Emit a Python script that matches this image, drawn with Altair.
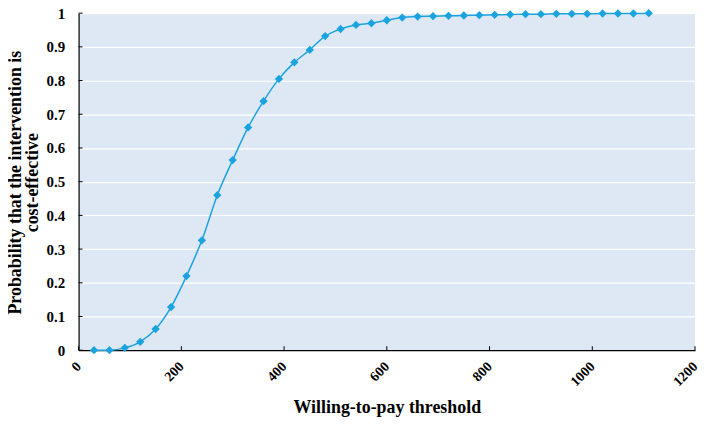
import altair as alt
import pandas as pd

wtp = [30, 60, 90, 120, 150, 180, 210, 240, 270, 300, 330, 360, 390, 420, 450,
       480, 510, 540, 570, 600, 630, 660, 690, 720, 750, 780, 810, 840, 870,
       900, 930, 960, 990, 1020, 1050, 1080, 1110]
prob = [0.0, 0.0, 0.007, 0.025, 0.063, 0.128, 0.22, 0.326, 0.46, 0.564, 0.661,
        0.739, 0.805, 0.854, 0.891, 0.932, 0.953, 0.965, 0.970, 0.979, 0.987,
        0.990, 0.991, 0.992, 0.993, 0.994, 0.995, 0.996, 0.997, 0.997, 0.998,
        0.998, 0.998, 0.999, 0.999, 0.999, 1.0]

x_ticks = [0, 200, 400, 600, 800, 1000, 1200]
y_ticks = [0, 0.1, 0.2, 0.3, 0.4, 0.5, 0.6, 0.7, 0.8, 0.9, 1.0]

df = pd.DataFrame({"wtp": wtp, "prob": prob})
xt = pd.DataFrame({"wtp": x_ticks})
yt = pd.DataFrame({"prob": y_ticks})

W, H = 620, 339
COLOR = "#1ba3e0"
FONT = "Liberation Serif"

xscale = alt.Scale(domain=[0, 1200], nice=False)
yscale = alt.Scale(domain=[0, 1], nice=False)

xaxis = alt.Axis(values=x_ticks, format="d", labelAngle=-45, labelAlign="right",
                 labelBaseline="middle", labelPadding=14, ticks=False, grid=False,
                 labelOverlap=False, labelFlush=False,
                 domainColor="black", domainWidth=1.2,
                 labelFont=FONT, labelFontWeight="bold", labelFontSize=14, labelColor="black",
                 title="Willing-to-pay threshold", titleFont=FONT, titleFontWeight="bold",
                 titleFontSize=18, titleColor="black", titleY=63, titleBaseline="alphabetic")
yaxis = alt.Axis(values=y_ticks, format="~g", ticks=False, grid=True, gridColor="white",
                 gridWidth=1.2, domainColor="black", domainWidth=1.2,
                 labelOverlap=False, labelFlush=False,
                 labelFont=FONT, labelFontWeight="bold", labelFontSize=15, labelColor="black",
                 labelPadding=14,
                 title=["Probability that the intervention is", "cost-effective"],
                 titleFont=FONT, titleFontWeight="bold", titleFontSize=18, titleColor="black",
                 titleLineHeight=17, titleX=-58, titleY=170, titleAngle=-90,
                 titleAlign="center", titleBaseline="alphabetic")

X = alt.X("wtp:Q", scale=xscale, axis=xaxis)
Y = alt.Y("prob:Q", scale=yscale, axis=yaxis)

line = alt.Chart(df).mark_line(color=COLOR, strokeWidth=1.5, interpolate="monotone", clip=False).encode(
    x=X, y=Y,
)
pts = alt.Chart(df).mark_point(shape="diamond", filled=True, color=COLOR, size=70, opacity=1, clip=False).encode(
    x=X, y=Y,
)
xtick = alt.Chart(xt).mark_rule(color="black", strokeWidth=1).encode(
    x=X, y=alt.value(H), y2=alt.value(H - 4),
)
ytick = alt.Chart(yt).mark_rule(color="black", strokeWidth=1).encode(
    y=Y, x=alt.value(0), x2=alt.value(4),
)

chart = alt.layer(line, pts, xtick, ytick).properties(
    width=W, height=H,
    autosize=alt.AutoSizeParams(type="none"),
    padding={"left": 71, "top": 4, "right": 5, "bottom": 70},
    background="white",
).configure_view(fill="#dde8f4", stroke=None)

chart.save("out.html", embed_options={"renderer": "svg", "actions": False})
